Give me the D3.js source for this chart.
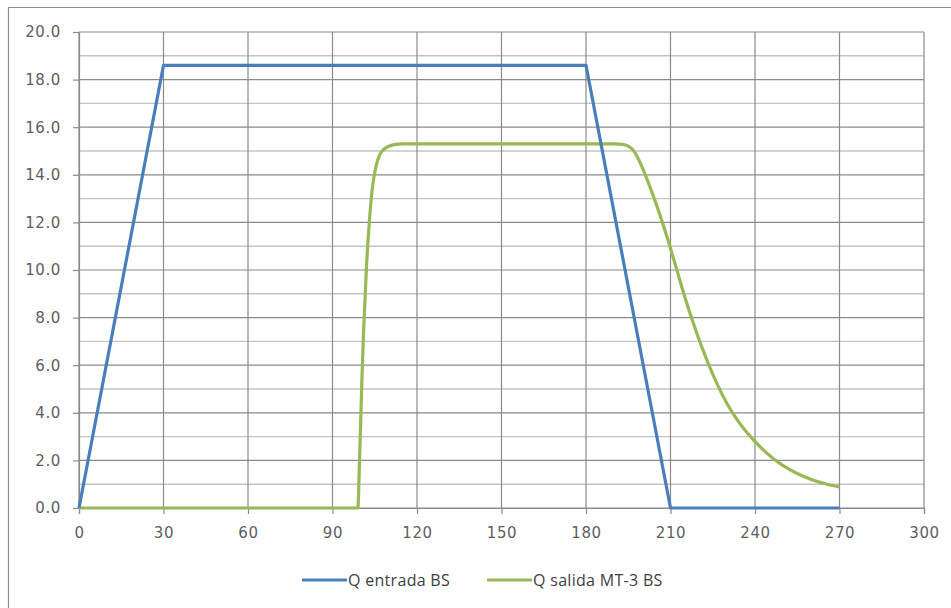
<!DOCTYPE html>
<html><head><meta charset="utf-8">
<script src="https://cdn.jsdelivr.net/npm/d3@7"></script>
<style>
html,body{margin:0;padding:0;background:#fff;}
svg{display:block;}
.tick text{font-family:"DejaVu Sans",sans-serif;font-size:15px;fill:#606060;letter-spacing:0.6px;}
.leg{font-family:"Open Sans",sans-serif;font-size:16px;fill:#404040;letter-spacing:0.3px;}
</style></head><body>
<svg id="c" width="951" height="608"></svg>
<script>
const seriesNames = ["Q entrada BS", "Q salida MT-3 BS"];
const seriesColors = ["#4a7ebb", "#98b954"];
const entradaT = [0, 30, 180, 210, 270];
const entradaQ = [0, 18.6, 18.6, 0, 0];
const salidaT = [0, 99, 99.5, 100, 100.5, 101, 102, 103, 104, 105, 106, 107, 108, 110, 112, 115, 190, 193, 195, 197, 200, 203, 206, 209, 212, 215, 218, 221, 224, 227, 230, 234, 238, 242, 246, 250, 255, 260, 265, 270];
const salidaQ = [0, 0, 1.6, 3.6, 5.6, 7.3, 10.0, 11.9, 13.3, 14.1, 14.6, 14.9, 15.05, 15.2, 15.27, 15.3, 15.3, 15.28, 15.2, 15.0, 14.3, 13.4, 12.4, 11.3, 10.1, 8.9, 7.8, 6.8, 5.9, 5.1, 4.4, 3.65, 3.05, 2.55, 2.12, 1.78, 1.45, 1.2, 1.02, 0.88];
const xTicks = [0, 30, 60, 90, 120, 150, 180, 210, 240, 270, 300];
const yTicks = [0, 2, 4, 6, 8, 10, 12, 14, 16, 18, 20];
const yMinor = [1, 3, 5, 7, 9, 11, 13, 15, 17, 19];

const svg = d3.select("#c");
const x = d3.scaleLinear().domain([0, 300]).range([79, 924]);
const y = d3.scaleLinear().domain([0, 20]).range([508, 32]);

// chart frame (left/top visible)
svg.append("path").attr("d", "M8.5,608 L8.5,7.5 L951,7.5").attr("fill", "none").attr("stroke", "#8c8c8c").attr("stroke-width", 1.2);

const g = svg.append("g");
g.selectAll(".mn").data(yMinor).join("line")
  .attr("x1", x(0)).attr("x2", x(300))
  .attr("y1", d => y(d)).attr("y2", d => y(d))
  .attr("stroke", "#c4c4c4").attr("stroke-width", 1.4);
g.selectAll(".mj").data(yTicks).join("line")
  .attr("x1", x(0)).attr("x2", x(300))
  .attr("y1", d => y(d)).attr("y2", d => y(d))
  .attr("stroke", "#8a8a8a").attr("stroke-width", 1.2);
g.selectAll(".vg").data(xTicks).join("line")
  .attr("x1", d => x(d)).attr("x2", d => x(d))
  .attr("y1", y(0)).attr("y2", y(20))
  .attr("stroke", "#8a8a8a").attr("stroke-width", 1.2);

const xAxis = svg.append("g").attr("transform", `translate(0,${y(0)})`)
  .call(d3.axisBottom(x).tickValues(xTicks).tickFormat(d3.format("d")).tickSize(6).tickPadding(13));
const yAxis = svg.append("g").attr("transform", `translate(${x(0)},0)`)
  .call(d3.axisLeft(y).tickValues(yTicks).tickFormat(d3.format(".1f")).tickSize(6).tickPadding(12));
[xAxis, yAxis].forEach(a => {
  a.select(".domain").attr("stroke", "#8a8a8a").attr("stroke-width", 1.2);
  a.selectAll(".tick line").attr("stroke", "#8a8a8a").attr("stroke-width", 1.2);
});

const line = d3.line().x(d => x(d[0])).y(d => y(d[1])).curve(d3.curveLinear);
const smooth = d3.line().x(d => x(d[0])).y(d => y(d[1])).curve(d3.curveMonotoneX);
svg.append("path").datum(salidaT.map((t, i) => [t, salidaQ[i]]))
  .attr("d", smooth).attr("fill", "none").attr("stroke", seriesColors[1]).attr("stroke-width", 3.2).attr("stroke-linejoin", "round");
svg.append("path").datum(entradaT.map((t, i) => [t, entradaQ[i]]))
  .attr("d", line).attr("fill", "none").attr("stroke", seriesColors[0]).attr("stroke-width", 3.2).attr("stroke-linejoin", "round");

const legX = [302, 487];
const legY = 580;
seriesNames.forEach((n, i) => {
  svg.append("line").attr("x1", legX[i]).attr("x2", legX[i] + 45).attr("y1", legY).attr("y2", legY)
    .attr("stroke", seriesColors[i]).attr("stroke-width", 3.2);
  svg.append("text").attr("class", "leg").attr("x", legX[i] + 46).attr("y", legY + 6).text(n);
});
</script>
</body></html>
